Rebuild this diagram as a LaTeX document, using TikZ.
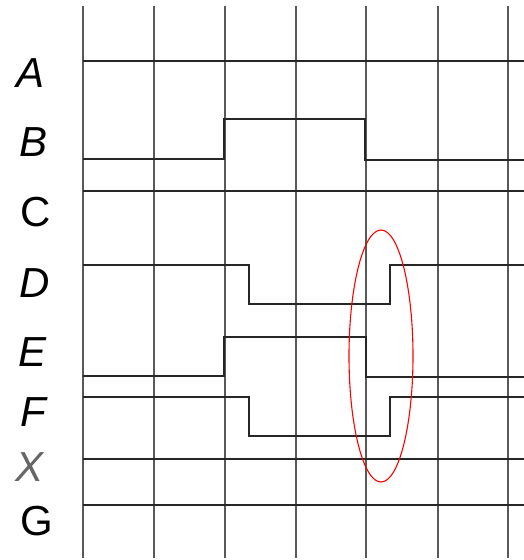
\documentclass[tikz,border=0pt]{standalone}
\usepackage{fontspec}
\setmainfont{Liberation Sans}
\begin{document}
\begin{tikzpicture}[x=1pt,y=-1pt,
  gridline/.style={draw=black!65,line width=1.3pt},
  signal/.style={draw=black!85,line width=1.6pt},
  lab/.style={font=\fontsize{42}{42}\selectfont\itshape,inner sep=0pt},
  labup/.style={font=\fontsize{42}{42}\selectfont,inner sep=0pt}]
\useasboundingbox (0,0) rectangle (524,560);
\fill[white] (0,0) rectangle (524,560);
% grid
\foreach \x in {83,154,225,296,366,438,508}
  \draw[gridline] (\x,6) -- (\x,558);
% signals
\draw[signal] (83,61) -- (524,61);
\draw[signal] (83,159) -- (224,159) -- (224,119) -- (365,119) -- (365,160) -- (524,160);
\draw[signal] (83,191) -- (524,191);
\draw[signal] (83,265) -- (249,265) -- (249,304) -- (390,304) -- (390,265) -- (524,265);
\draw[signal] (83,376) -- (224,376) -- (224,337) -- (366,337) -- (366,377) -- (524,377);
\draw[signal] (83,397) -- (249,397) -- (249,436) -- (390,436) -- (390,397) -- (524,397);
\draw[signal] (83,459) -- (524,459);
\draw[signal] (83,505) -- (524,505);
% ellipse
\draw[red,line width=1.1pt] (381,356) ellipse [x radius=32, y radius=126];
% labels
\node[lab] (la) at (31,73) {A};
\node[lab] (lb) at (34,142) {B};
\node[labup] (lc) at (36,212) {C};
\node[lab] (ld) at (35,283) {D};
\node[lab] (le) at (33,352) {E};
\node[lab] (lf) at (33,412) {F};
\node[lab,text=black!60] (lx) at (30,467) {X};
\node[labup] (lg) at (37,521) {G};
\end{tikzpicture}
\end{document}
